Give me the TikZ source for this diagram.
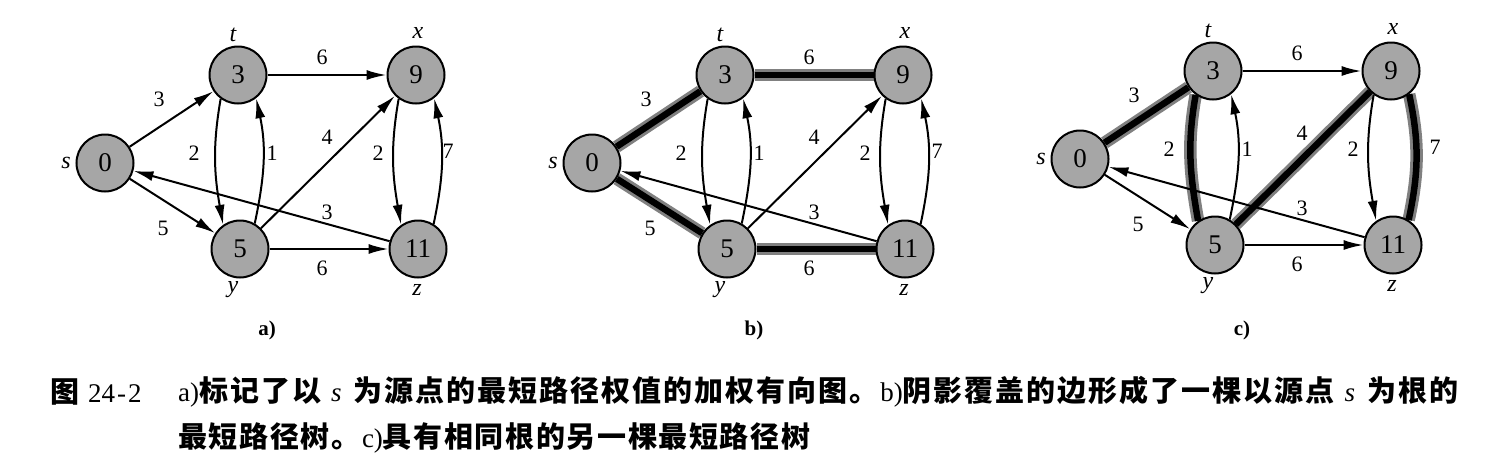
\documentclass[tikz,border=0pt]{standalone}
\usepackage{fontspec}
\setmainfont{Liberation Serif}
\newfontfamily\cjk{Noto Sans CJK SC}
\usetikzlibrary{arrows.meta}
\pgfdeclarelayer{bg}
\pgfsetlayers{bg,main}
\def\spr#1{\ifx\relax#1\else#1\hskip0pt plus 1fil\relax\expandafter\spr\fi}
\tikzset{
  vtx/.style={circle,draw,line width=2pt,fill=black!35,minimum size=57pt,inner sep=0pt,font=\fontsize{27}{27}\selectfont},
  wt/.style={inner sep=0pt,font=\fontsize{22}{22}\selectfont},
  nm/.style={inner sep=0pt,font=\fontsize{24}{24}\selectfont\itshape},
  arcedge/.style={draw,line width=2pt,-{Latex[length=20pt,width=10pt]}},
  treeedge/.style={draw=black!50,line width=3pt,double=black,double distance=6.5pt},
  sublab/.style={inner sep=0pt,font=\fontsize{21}{21}\selectfont\bfseries},
  captxt/.style={inner sep=0pt,anchor=west,font=\fontsize{27}{27}\selectfont},
  cjkfont/.style={},
}
\newcommand\cj{\cjk\bfseries\fontsize{29}{29}\selectfont}
% #1 prefix, #2 x of s, #3 y of s (pixels from top), #4 sub label, #5 x of weight 7
\newcommand\mkpanel[5]{%
  \begin{scope}[shift={(#2,-#3)}]
    \node[vtx] (#1s) at (0,0) {0};
    \node[vtx] (#1t) at (133,88) {3};
    \node[vtx] (#1x) at (311,88) {9};
    \node[vtx] (#1y) at (135,-86) {5};
    \node[vtx] (#1z) at (313,-86) {11};
    \node[nm] (#1ns) at (-39,0) {s};
    \node[nm] (#1nt) at (128,128) {t};
    \node[nm] (#1nx) at (313,130) {x};
    \node[nm] (#1ny) at (128,-127) {y};
    \node[nm] (#1nz) at (312,-127) {z};
    \node[wt] (#1w1) at (54,64) {3};
    \node[wt] (#1w2) at (58,-65) {5};
    \node[wt] (#1w3) at (217,106) {6};
    \node[wt] (#1w4) at (89,10) {2};
    \node[wt] (#1w5) at (167,10) {1};
    \node[wt] (#1w6) at (222,26) {4};
    \node[wt] (#1w7) at (273,10) {2};
    \node[wt] (#1w8) at (#5,12) {7};
    \node[wt] (#1w9) at (222,-49) {3};
    \node[wt] (#1w10) at (217,-105) {6};
    \node[sublab] (#1lab) at (162,{#3-330}) {#4};
  \end{scope}}
% #1 prefix, then styles for s-t, s-y, t-x, y-z, t-y, y-x, z-x
\newcommand\mkedges[8]{%
  \begin{pgfonlayer}{bg}
    \path[#2] (#1s) -- (#1t);
    \path[#3] (#1s) -- (#1y);
    \path[#4] (#1t) -- (#1x);
    \path[#5] (#1y) -- (#1z);
    \path[#6] (#1t.-126) to[out=-100,in=100] (#1y.125);
    \path[#7] (#1y) -- (#1x);
    \path[#8] (#1z.58) to[out=78,in=-78] (#1x.-52);
    \path[arcedge] (#1y.60) to[out=78,in=-78] (#1t.-52);
    \path[arcedge] (#1x.-126) to[out=-100,in=100] (#1z.125);
    \path[arcedge] (#1z) -- (#1s);
  \end{pgfonlayer}}
\begin{document}
\begin{tikzpicture}[x=1pt,y=1pt]
  \begin{pgfonlayer}{bg}
    \fill[white] (0,0) rectangle (1491,-474);
  \end{pgfonlayer}
  \useasboundingbox (0,0) rectangle (1491,-474);
  \mkpanel{A}{105}{163}{a)}{343}
  \mkedges{A}{arcedge}{arcedge}{arcedge}{arcedge}{arcedge}{arcedge}{arcedge}
  \mkpanel{B}{592}{163}{b)}{345}
  \mkedges{B}{treeedge}{treeedge}{treeedge}{treeedge}{arcedge}{arcedge}{arcedge}
  \mkpanel{C}{1080}{159}{c)}{355}
  \mkedges{C}{treeedge}{arcedge}{arcedge}{arcedge}{treeedge}{treeedge}{treeedge}
  \node[captxt] (cap0) at (50,-392) {{\cj 图}\hspace{9pt}24\hspace{2pt}-\hspace{2pt}2};
  \node[captxt] (cap1) at (178,-392) {\hbox to 1280pt{a){\cj\spr 标记了以\relax}\hspace{8pt}\textit{s}\hspace{12pt}{\cj\spr 为源点的最短路径权值的加权有向图。\relax}b){\cj\spr 阴影覆盖的边形成了一棵以源点\relax}\hspace{8pt}\textit{s}\hspace{12pt}{\cj\spr 为根的\relax\unskip}}};
  \node[captxt] (cap2) at (178,-438) {\hbox to 632pt{{\cj\spr 最短路径树。\relax}c){\cj\spr 具有相同根的另一棵最短路径树\relax\unskip}}};
\end{tikzpicture}
\end{document}
